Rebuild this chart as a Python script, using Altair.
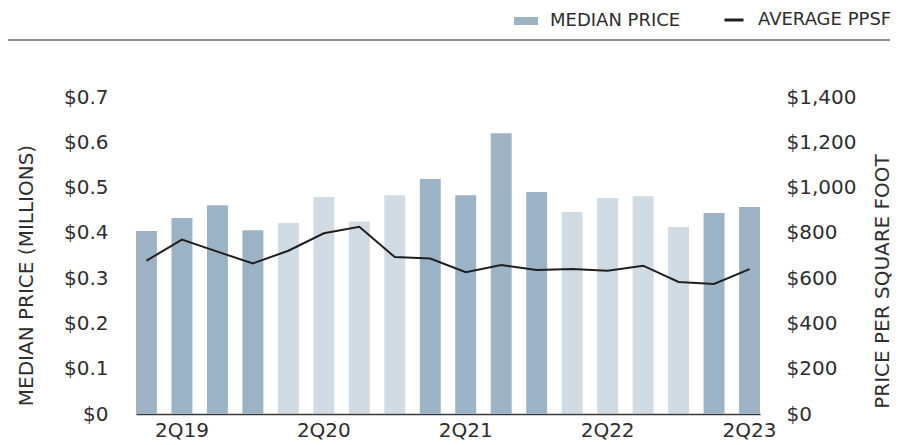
import altair as alt
import pandas as pd

quarters = ["1Q19", "2Q19", "3Q19", "4Q19", "1Q20", "2Q20", "3Q20", "4Q20",
            "1Q21", "2Q21", "3Q21", "4Q21", "1Q22", "2Q22", "3Q22", "4Q22",
            "1Q23", "2Q23"]
median_price = [0.404, 0.433, 0.461, 0.406, 0.422, 0.479, 0.425, 0.483,
                0.519, 0.483, 0.620, 0.490, 0.446, 0.477, 0.481, 0.413,
                0.444, 0.457]
avg_ppsf = [677, 770, 717, 665, 721, 798, 827, 693, 687, 626, 658, 636,
            640, 633, 655, 583, 574, 640]
shade = ["dark"] * 4 + ["light"] * 4 + ["dark"] * 4 + ["light"] * 4 + ["dark"] * 2
x_label_values = ["2Q19", "2Q20", "2Q21", "2Q22", "2Q23"]
left_ticks = [0, 0.1, 0.2, 0.3, 0.4, 0.5, 0.6, 0.7]
right_ticks = [0, 200, 400, 600, 800, 1000, 1200, 1400]

df = pd.DataFrame({
    "quarter": quarters,
    "median": median_price,
    "ppsf": avg_ppsf,
    "shade": shade,
    "bar_series": ["MEDIAN PRICE"] * len(quarters),
    "line_series": ["AVERAGE PPSF"] * len(quarters),
})

FONT = "DejaVu Sans"
TXT = "#2e2e2e"
DARK = "#9cb3c5"

x_enc = alt.X(
    "quarter:N", sort=quarters,
    scale=alt.Scale(paddingInner=0.41, paddingOuter=0),
    axis=alt.Axis(title=None, values=x_label_values, labelAngle=0, ticks=False,
                  domainColor="#3a3a3a", domainWidth=1.5, labelPadding=6,
                  labelFontSize=20, labelColor=TXT, labelFont=FONT),
)

bars = alt.Chart(df).mark_bar().encode(
    x=x_enc,
    y=alt.Y("median:Q", scale=alt.Scale(domain=[0, 0.7], nice=False),
            axis=alt.Axis(orient="left", values=left_ticks,
                          labelExpr="datum.value == 0 ? '$0' : '$' + format(datum.value, '.1f')",
                          ticks=False, domain=False, labelPadding=28,
                          labelFontSize=20, labelColor=TXT, labelFont=FONT,
                          title="MEDIAN PRICE (MILLIONS)", titleFont=FONT,
                          titleFontSize=20, titleFontWeight="normal", titleColor=TXT,
                          titleAngle=270, titleBaseline="middle", titleAlign="center",
                          titleX=-110, titleY=178)),
    color=alt.Color("bar_series:N",
                    scale=alt.Scale(domain=["MEDIAN PRICE"], range=[DARK]),
                    legend=alt.Legend(orient="none", legendX=378, legendY=-88,
                                      title=None, symbolType="M-1,-0.333H1V0.333H-1Z",
                                      symbolSize=576, symbolStrokeWidth=0,
                                      labelFont=FONT, labelFontSize=18,
                                      labelColor=TXT, labelOffset=12)),
    opacity=alt.Opacity("shade:N",
                        scale=alt.Scale(domain=["dark", "light"], range=[1, 0.48]),
                        legend=None),
)

line = alt.Chart(df).mark_line(strokeWidth=2).encode(
    x=x_enc,
    y=alt.Y("ppsf:Q", scale=alt.Scale(domain=[0, 1400], nice=False),
            axis=alt.Axis(orient="right", values=right_ticks, format="$,.0f",
                          ticks=False, domain=False, labelPadding=26,
                          labelFontSize=20, labelColor=TXT, labelFont=FONT,
                          title="PRICE PER SQUARE FOOT", titleFont=FONT,
                          titleFontSize=20, titleFontWeight="normal", titleColor=TXT,
                          titleAngle=270, titleBaseline="middle", titleAlign="center",
                          titleX=122, titleY=184)),
    stroke=alt.Stroke("line_series:N",
                      scale=alt.Scale(domain=["AVERAGE PPSF"], range=["#1f1f1f"]),
                      legend=alt.Legend(orient="none", legendX=587, legendY=-88,
                                        title=None, symbolType="stroke",
                                        symbolSize=361, symbolStrokeWidth=3,
                                        labelFont=FONT, labelFontSize=18,
                                        labelColor=TXT, labelOffset=13)),
)

rule = alt.Chart(pd.DataFrame({"r": [0]})).mark_rule(
    color="#6b6b6b", strokeWidth=1.5
).encode(x=alt.value(-128), x2=alt.value(754), y=alt.value(-57))

chart = alt.layer(bars, line, rule).resolve_scale(
    y="independent"
).properties(
    width=624, height=317,
    autosize=alt.AutoSizeParams(type="none"),
    padding={"left": 128, "top": 89, "right": 145, "bottom": 27},
).configure_view(stroke=None).configure_axis(grid=False)

chart.save("out.html", embed_options={"renderer": "svg", "actions": False})
